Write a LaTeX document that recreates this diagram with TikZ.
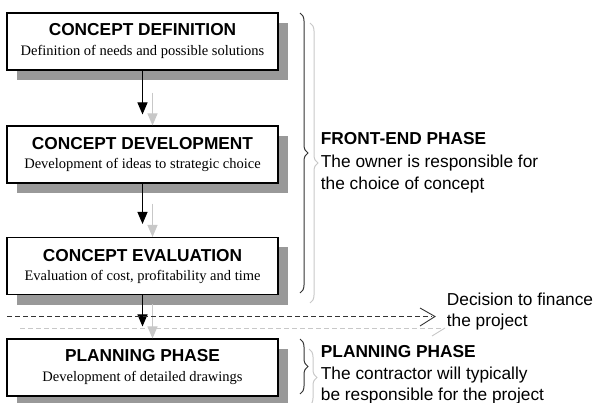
\documentclass[tikz,border=0pt]{standalone}
\usepackage{fontspec}
\setmainfont{Liberation Serif}
\newfontfamily\arialf{Liberation Sans}
\usetikzlibrary{arrows.meta,decorations.pathreplacing}
\definecolor{shadowgray}{HTML}{999999}
\definecolor{ghost}{HTML}{C8C8C8}
\definecolor{darkline}{HTML}{333333}
\begin{document}
\begin{tikzpicture}[x=1pt,y=-1pt,
  box/.style={draw=black,line width=1.1pt,fill=white,minimum width=271pt,minimum height=57pt,inner sep=0pt},
  shadowbox/.style={fill=shadowgray,minimum width=271pt,minimum height=57pt,inner sep=0pt},
  ttl/.style={font=\arialf\bfseries\fontsize{17.3}{20}\selectfont,anchor=base,inner sep=0pt},
  subt/.style={font=\fontsize{14.5}{17}\selectfont,anchor=base,inner sep=0pt},
  rtxt/.style={font=\arialf\fontsize{17.3}{20}\selectfont,anchor=base west,inner sep=0pt},
  rbold/.style={font=\arialf\bfseries\fontsize{17.3}{20}\selectfont,anchor=base west,inner sep=0pt},
  blackarrow/.style={draw=black,line width=1pt,-{Triangle[length=12pt,width=10pt]}},
  grayarrow/.style={draw=ghost,line width=1pt,-{Triangle[length=12pt,width=10pt]}},
  dashline/.style={line width=0.9pt,dash pattern=on 5pt off 3pt},
  bracestyle/.style={line width=1pt,decorate,decoration={brace,amplitude=8pt}}
]
\useasboundingbox (0,0) rectangle (594,403);

% ghost (light gray) elements
\coordinate (gA) at (20,328);
\coordinate (gB) at (443,328);
\coordinate (gT) at (445,328);
\coordinate (gL) at (432,336);
\draw[ghost,dashline] (gA) -- (gB);
\draw[ghost,line width=0.9pt] (gT) -- (gL);
\coordinate (gb1) at (310,23);
\coordinate (gb2) at (310,303);
\coordinate (gb3) at (309,349);
\coordinate (gb4) at (309,406);
\draw[ghost,bracestyle] (gb1) -- (gb2);
\draw[ghost,bracestyle] (gb3) -- (gb4);

% shadows
\node[shadowbox] (s1) at (152.5,51.5) {};
\node[shadowbox] (s2) at (152.5,164.5) {};
\node[shadowbox] (s3) at (152.5,276) {};
\node[shadowbox] (s4) at (152.5,377.5) {};

% boxes
\node[box] (b1) at (142.5,41.5) {};
\node[box] (b2) at (142.5,154.5) {};
\node[box] (b3) at (142.5,266) {};
\node[box] (b4) at (142.5,367.5) {};

\node[ttl] (t1) at (142.5,36) {CONCEPT DEFINITION};
\node[subt] (u1) at (142.5,55.5) {Definition of needs and possible solutions};
\node[ttl] (t2) at (142.5,149.3) {CONCEPT DEVELOPMENT};
\node[subt] (u2) at (142.5,168.3) {Development of ideas to strategic choice};
\node[ttl] (t3) at (142.5,261.7) {CONCEPT EVALUATION};
\node[subt] (u3) at (142.5,280) {Evaluation of cost, profitability and time};
\node[ttl] (t4) at (142.5,361.7) {PLANNING PHASE};
\node[subt] (u4) at (142.5,381.7) {Development of detailed drawings};

% gray arrows
\draw[grayarrow,shorten <=22pt] ([xshift=10pt]b1.south) -- ([xshift=10pt]b2.north);
\draw[grayarrow,shorten <=20pt] ([xshift=10pt]b2.south) -- ([xshift=10pt]b3.north);
\draw[grayarrow,shorten <=9pt] ([xshift=10pt]b3.south) -- ([xshift=10pt]b4.north);

% black arrows
\draw[blackarrow,shorten >=11pt] (b1.south) -- (b2.north);
\draw[blackarrow,shorten >=13pt] (b2.south) -- (b3.north);
\draw[blackarrow,shorten >=12pt] (b3.south) -- (b4.north);

% black dashed decision line
\coordinate (dA) at (7,316.5);
\coordinate (dB) at (435,316.5);
\draw[darkline,dashline] (dA) -- ([xshift=-3pt]dB);
\draw[darkline,line width=0.9pt] (420,308) -- (dB) -- (420,326);

% braces
\coordinate (br1) at (300,13);
\coordinate (br2) at (300,293);
\coordinate (br3) at (300,339);
\coordinate (br4) at (300,394);
\draw[darkline,bracestyle] (br1) -- (br2);
\draw[darkline,bracestyle] (br3) -- (br4);

% right texts
\node[rbold] (f1) at (320.7,145) {FRONT-END PHASE};
\node[rtxt] (f2) at (320.7,167.7) {The owner is responsible for};
\node[rtxt] (f3) at (320.7,189.3) {the choice of concept};
\node[rtxt] (d1) at (446.7,305.7) {Decision to finance};
\node[rtxt] (d2) at (446.7,326.7) {the project};
\node[rbold] (p1) at (320.7,357.3) {PLANNING PHASE};
\node[rtxt] (p2) at (320.7,379) {The contractor will typically};
\node[rtxt] (p3) at (320.7,400) {be responsible for the project};
\end{tikzpicture}
\end{document}
